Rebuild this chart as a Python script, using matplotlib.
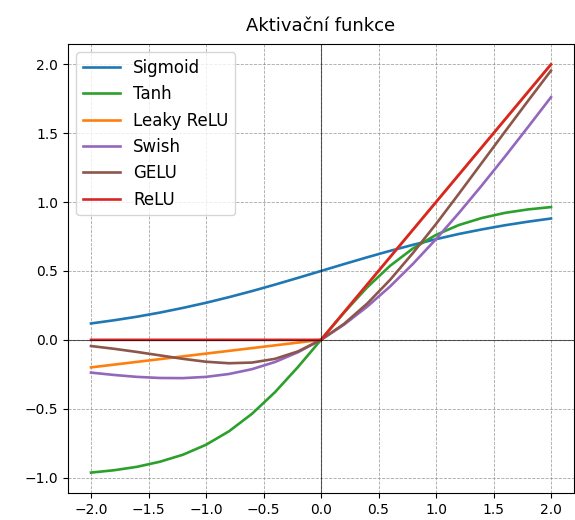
import numpy as np
from matplotlib import pyplot as plt

# hodnoty, krok 0.2
x = [-2.0, -1.8, -1.6, -1.4, -1.2, -1.0, -0.8, -0.6, -0.4, -0.2, 0.0,
     0.2, 0.4, 0.6, 0.8, 1.0, 1.2, 1.4, 1.6, 1.8, 2.0]

sigmoid = [0.119, 0.142, 0.168, 0.198, 0.232, 0.269, 0.310, 0.354, 0.401, 0.450, 0.500,
           0.550, 0.599, 0.646, 0.690, 0.731, 0.769, 0.802, 0.832, 0.858, 0.881]
tanh = [-0.964, -0.947, -0.922, -0.885, -0.834, -0.762, -0.664, -0.537, -0.380, -0.197, 0.0,
        0.197, 0.380, 0.537, 0.664, 0.762, 0.834, 0.885, 0.922, 0.947, 0.964]
leaky_relu = [-0.20, -0.18, -0.16, -0.14, -0.12, -0.10, -0.08, -0.06, -0.04, -0.02, 0.0,
              0.2, 0.4, 0.6, 0.8, 1.0, 1.2, 1.4, 1.6, 1.8, 2.0]
swish = [-0.238, -0.255, -0.269, -0.277, -0.278, -0.269, -0.248, -0.213, -0.161, -0.090, 0.0,
         0.110, 0.240, 0.387, 0.552, 0.731, 0.922, 1.123, 1.331, 1.545, 1.762]
gelu = [-0.045, -0.065, -0.088, -0.113, -0.138, -0.159, -0.170, -0.165, -0.138, -0.084, 0.0,
        0.116, 0.262, 0.435, 0.631, 0.841, 1.062, 1.287, 1.512, 1.735, 1.955]
relu = [0.0, 0.0, 0.0, 0.0, 0.0, 0.0, 0.0, 0.0, 0.0, 0.0, 0.0,
        0.2, 0.4, 0.6, 0.8, 1.0, 1.2, 1.4, 1.6, 1.8, 2.0]

series = [("Sigmoid", sigmoid, "tab:blue"),
          ("Tanh", tanh, "tab:green"),
          ("Leaky ReLU", leaky_relu, "tab:orange"),
          ("Swish", swish, "tab:purple"),
          ("GELU", gelu, "tab:brown"),
          ("ReLU", relu, "tab:red")]

fig = plt.figure(figsize=(5.75, 5.2), dpi=100)
ax = fig.add_axes([68/575, 1 - 493/520, 506/575, 449/520])

for name, y, col in series:
    ax.plot(x, y, label=name, color=col, linewidth=1.9)

ax.axhline(0, color='black', linewidth=0.8, alpha=0.6)
ax.axvline(0, color='black', linewidth=0.8, alpha=0.6)
ax.grid(True, linestyle='--', linewidth=0.6, color='gray', alpha=0.7)
ax.set_title("Aktivační funkce", fontsize=13, pad=9)
ax.legend(loc='upper left', fontsize=12, handlelength=2.2)

fig.savefig("out.png", dpi=100)
